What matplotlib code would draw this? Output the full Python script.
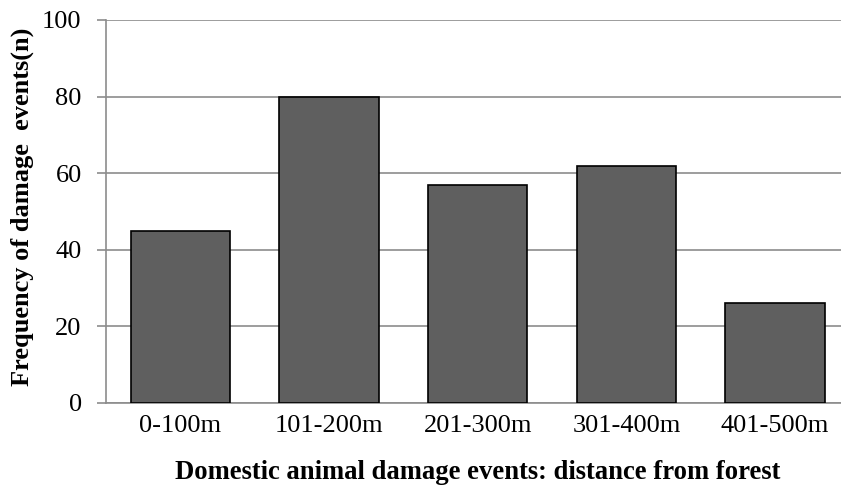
import matplotlib
matplotlib.use('Agg')
import matplotlib.pyplot as plt

plt.rcParams['font.family'] = ['Liberation Serif', 'DejaVu Serif']

# distance bands and number of damage events in each
distances = ['0-100m', '101-200m', '201-300m', '301-400m', '401-500m']
events = [45, 80, 57, 62, 26]
y_ticks = [0, 20, 40, 60, 80, 100]

fig = plt.figure(figsize=(8.41, 4.9), dpi=100)
# plot area runs a little past the right edge of the figure
ax = fig.add_axes([0.126, 0.1776, 0.884, 0.7816])

ax.bar(range(len(distances)), events, width=0.668, color='#5f5f5f',
       edgecolor='black', linewidth=1.2, zorder=3)

ax.set_xlim(-0.5, len(distances) - 0.5)
ax.set_ylim(0, 100)
ax.set_yticks(y_ticks)
ax.set_xticks(range(len(distances)))
ax.set_xticklabels(distances)
ax.yaxis.grid(True, color='#8c8c8c', linewidth=1.2, zorder=0)

for side in ['top', 'right']:
    ax.spines[side].set_visible(False)
ax.spines['left'].set_color('#8c8c8c')
ax.spines['bottom'].set_color('#8c8c8c')
ax.spines['left'].set_linewidth(1.2)
ax.spines['bottom'].set_linewidth(1.2)

ax.tick_params(axis='y', length=6.5, width=1.2, color='#8c8c8c', labelsize=19, pad=11)
ax.tick_params(axis='x', length=0, labelsize=19, pad=9)

ax.set_xlabel('Domestic animal damage events: distance from forest',
              fontsize=19.2, fontweight='bold')
ax.xaxis.set_label_coords(0.5, -0.148)
ax.set_ylabel('Frequency of damage  events(n)', fontsize=19, fontweight='bold')
ax.yaxis.set_label_coords(-0.097, 0.512)

fig.savefig('out.png', dpi=100)
